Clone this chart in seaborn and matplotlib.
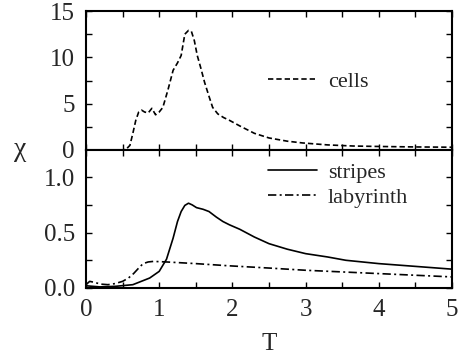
import numpy as np
import pandas as pd
import matplotlib
matplotlib.use("Agg")
import matplotlib.pyplot as plt
from matplotlib.ticker import MultipleLocator, FormatStrFormatter
import seaborn as sns

# valeurs
t_cells = [0.0, 0.5, 0.55, 0.6, 0.64, 0.68, 0.72, 0.76, 0.8, 0.85, 0.9, 0.95, 1.0, 1.05,
           1.12, 1.19, 1.25, 1.3, 1.35, 1.4, 1.44, 1.48, 1.52, 1.57, 1.62, 1.68, 1.73,
           1.8, 1.88, 1.96, 2.1, 2.3, 2.5, 2.75, 2.96, 3.3, 3.65, 4.0, 4.5, 5.0]
chi_cells = [0.0, 0.0, 0.1, 0.5, 1.8, 3.2, 4.1, 4.3, 4.1, 4.0, 4.5, 3.8, 4.1, 4.6,
             6.5, 8.6, 9.4, 10.2, 12.5, 12.9, 12.8, 11.8, 10.2, 8.8, 7.3, 5.8, 4.6,
             3.9, 3.5, 3.2, 2.6, 1.8, 1.3, 0.95, 0.76, 0.55, 0.43, 0.38, 0.33, 0.3]

t_stripes = [0.0, 0.19, 0.4, 0.64, 0.87, 1.0, 1.1, 1.19, 1.25, 1.3, 1.35, 1.4, 1.45,
             1.51, 1.6, 1.68, 1.78, 1.87, 1.96, 2.1, 2.3, 2.5, 2.75, 3.0, 3.3, 3.55,
             4.0, 4.5, 5.0]
chi_stripes = [0.02, 0.01, 0.015, 0.03, 0.09, 0.15, 0.26, 0.45, 0.60, 0.69, 0.745, 0.765,
               0.75, 0.725, 0.71, 0.69, 0.64, 0.60, 0.57, 0.53, 0.46, 0.40, 0.35, 0.31,
               0.28, 0.25, 0.22, 0.195, 0.17]

t_lab = [0.0, 0.05, 0.12, 0.2, 0.3, 0.4, 0.5, 0.58, 0.65, 0.72, 0.78, 0.85, 0.92,
         1.1, 1.5, 1.96, 2.5, 3.0, 3.5, 4.0, 4.5, 5.0]
chi_lab = [0.03, 0.06, 0.05, 0.035, 0.03, 0.04, 0.06, 0.09, 0.13, 0.18, 0.22, 0.235,
           0.24, 0.235, 0.22, 0.20, 0.18, 0.16, 0.145, 0.13, 0.115, 0.10]

df_cells = pd.DataFrame({"T": t_cells, "chi": chi_cells})
df_stripes = pd.DataFrame({"T": t_stripes, "chi": chi_stripes})
df_lab = pd.DataFrame({"T": t_lab, "chi": chi_lab})

sns.set_style("ticks")
plt.rcParams["font.family"] = ["Liberation Serif", "DejaVu Serif"]

fig = plt.figure(figsize=(4.58, 3.54), dpi=100)
W, H = 458, 354
x0, x1 = 86, 452
ax1 = fig.add_axes([x0 / W, 1 - 150 / H, (x1 - x0) / W, (150 - 11) / H])
ax2 = fig.add_axes([x0 / W, 1 - 288 / H, (x1 - x0) / W, (288 - 150) / H])

sns.lineplot(data=df_cells, x="T", y="chi", ax=ax1, color="black", lw=1.2,
             label="cells")
ax1.lines[0].set_dashes([3.2, 1.8])

sns.lineplot(data=df_stripes, x="T", y="chi", ax=ax2, color="black", lw=1.2,
             label="stripes")
sns.lineplot(data=df_lab, x="T", y="chi", ax=ax2, color="black", lw=1.2,
             label="labyrinth")
ax2.lines[1].set_dashes([5, 2, 1.2, 2])

ax1.set_xlim(0, 5)
ax1.set_ylim(0, 15)
ax2.set_xlim(0, 5)
ax2.set_ylim(0, 1.245)

for ax in (ax1, ax2):
    ax.xaxis.set_major_locator(MultipleLocator(1))
    ax.xaxis.set_minor_locator(MultipleLocator(0.5))
    ax.tick_params(which="both", direction="in", top=True, right=True,
                   labelsize=18, width=1.0, length=4, color="black")
    ax.tick_params(which="major", pad=8)
    ax.set_xlabel("")
    ax.set_ylabel("")
    for sp in ax.spines.values():
        sp.set_linewidth(1.5)
        sp.set_visible(True)
        sp.set_color("black")

ax1.yaxis.set_major_locator(MultipleLocator(5))
ax1.yaxis.set_minor_locator(MultipleLocator(2.5))
ax1.tick_params(labelbottom=False)
ax2.yaxis.set_major_locator(MultipleLocator(0.5))
ax2.yaxis.set_minor_locator(MultipleLocator(0.25))
ax2.yaxis.set_major_formatter(FormatStrFormatter("%.1f"))

ax1.legend(loc="center left", bbox_to_anchor=(0.497, 0.49), frameon=False,
           fontsize=16, handlelength=2.2, handletextpad=0.5, borderaxespad=0,
           borderpad=0)
ax2.legend(loc="center left", bbox_to_anchor=(0.497, 0.746), frameon=False,
           fontsize=16, handlelength=2.2, handletextpad=0.5, labelspacing=0.2,
           borderaxespad=0, borderpad=0)

fig.text(20 / W, 1 - 149 / H, "χ", fontsize=20, ha="center", va="center")
fig.text((x0 + x1) / 2 / W, 1 - 344 / H, "T", fontsize=18, ha="center", va="center")

fig.savefig("out.png", dpi=100)
